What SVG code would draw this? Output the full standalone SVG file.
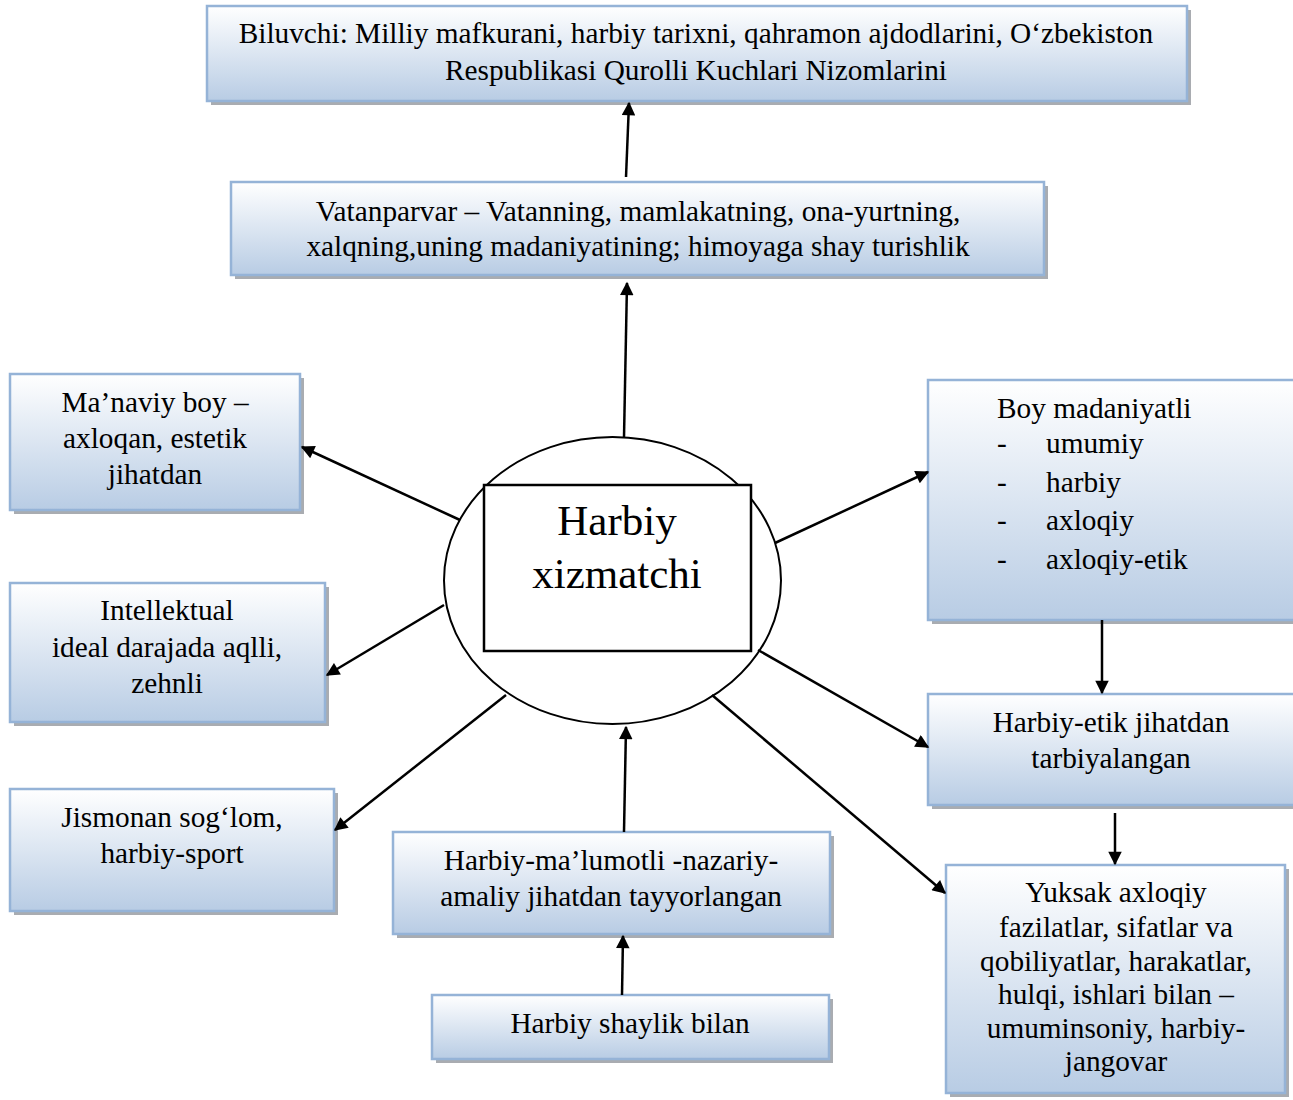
<svg xmlns="http://www.w3.org/2000/svg" width="1293" height="1100" viewBox="0 0 1293 1100">
<style>
.box{fill:url(#g);stroke:#95b3d7;stroke-width:2.5}
.sh{fill:#8c9097;opacity:0.75}
.t{font-family:"Liberation Serif","Times New Roman",serif;font-size:29.3px;fill:#000}
.big{font-family:"Liberation Serif","Times New Roman",serif;font-size:43px;fill:#000}
.c{text-anchor:middle}
.ln{stroke:#000;stroke-width:2.5;fill:none;marker-end:url(#ah)}
</style>
<defs>
<linearGradient id="g" x1="0" y1="0" x2="0" y2="1">
<stop offset="0" stop-color="#ffffff"/>
<stop offset="1" stop-color="#b8cce4"/>
</linearGradient>
<marker id="ah" viewBox="0 0 10 10" refX="9" refY="5" markerWidth="6.4" markerHeight="5.4" orient="auto" markerUnits="strokeWidth">
<path d="M0,0 L10,5 L0,10 z" fill="#000"/>
</marker>
</defs>
<rect width="1293" height="1100" fill="#fff"/>

<g id="n-biluvchi">
<rect class="sh" x="211" y="10" width="980" height="95"/>
<rect class="box" x="207" y="6" width="980" height="95"/>
<text class="t c" x="696" y="43">Biluvchi: Milliy mafkurani, harbiy tarixni, qahramon ajdodlarini, O‘zbekiston</text>
<text class="t c" x="696" y="80">Respublikasi Qurolli Kuchlari Nizomlarini</text>
</g>

<g id="n-vatanparvar">
<rect class="sh" x="235" y="186" width="813" height="93"/>
<rect class="box" x="231" y="182" width="813" height="93"/>
<text class="t c" x="638" y="221">Vatanparvar – Vatanning, mamlakatning, ona-yurtning,</text>
<text class="t c" x="638" y="256">xalqning,uning madaniyatining; himoyaga shay turishlik</text>
</g>

<g id="n-manaviy">
<rect class="sh" x="14" y="378" width="290" height="136"/>
<rect class="box" x="10" y="374" width="290" height="136"/>
<text class="t c" x="155" y="412">Ma’naviy boy –</text>
<text class="t c" x="155" y="448">axloqan, estetik</text>
<text class="t c" x="155" y="484">jihatdan</text>
</g>

<g id="n-intellektual">
<rect class="sh" x="14" y="587" width="315" height="139"/>
<rect class="box" x="10" y="583" width="315" height="139"/>
<text class="t c" x="167" y="620">Intellektual</text>
<text class="t c" x="167" y="657">ideal darajada aqlli,</text>
<text class="t c" x="167" y="693">zehnli</text>
</g>

<g id="n-jismonan">
<rect class="sh" x="14" y="793" width="324" height="122"/>
<rect class="box" x="10" y="789" width="324" height="122"/>
<text class="t c" x="172" y="827">Jismonan sog‘lom,</text>
<text class="t c" x="172" y="863">harbiy-sport</text>
</g>

<g id="n-malumotli">
<rect class="sh" x="397" y="836" width="437" height="102"/>
<rect class="box" x="393" y="832" width="437" height="102"/>
<text class="t c" x="611" y="870">Harbiy-ma’lumotli -nazariy-</text>
<text class="t c" x="611" y="906">amaliy jihatdan tayyorlangan</text>
</g>

<g id="n-shaylik">
<rect class="sh" x="436" y="999" width="397" height="64"/>
<rect class="box" x="432" y="995" width="397" height="64"/>
<text class="t c" x="630" y="1033">Harbiy shaylik bilan</text>
</g>

<g id="n-boy">
<rect class="sh" x="932" y="384" width="370" height="240"/>
<rect class="box" x="928" y="380" width="370" height="240"/>
<text class="t" x="997" y="418">Boy madaniyatli</text>
<text class="t" x="997" y="453">-</text><text class="t" x="1046" y="453">umumiy</text>
<text class="t" x="997" y="492">-</text><text class="t" x="1046" y="492">harbiy</text>
<text class="t" x="997" y="530">-</text><text class="t" x="1046" y="530">axloqiy</text>
<text class="t" x="997" y="569">-</text><text class="t" x="1046" y="569">axloqiy-etik</text>
</g>

<g id="n-etik">
<rect class="sh" x="932" y="698" width="370" height="111"/>
<rect class="box" x="928" y="694" width="370" height="111"/>
<text class="t c" x="1111" y="732">Harbiy-etik jihatdan</text>
<text class="t c" x="1111" y="768">tarbiyalangan</text>
</g>

<g id="n-yuksak">
<rect class="sh" x="950" y="869" width="339" height="228"/>
<rect class="box" x="946" y="865" width="339" height="228"/>
<text class="t c" x="1116" y="902">Yuksak axloqiy</text>
<text class="t c" x="1116" y="937">fazilatlar, sifatlar va</text>
<text class="t c" x="1116" y="971">qobiliyatlar, harakatlar,</text>
<text class="t c" x="1116" y="1004">hulqi, ishlari bilan –</text>
<text class="t c" x="1116" y="1038">umuminsoniy, harbiy-</text>
<text class="t c" x="1116" y="1071">jangovar</text>
</g>

<g id="n-center">
<ellipse cx="612.5" cy="580.5" rx="168.5" ry="143.5" fill="#fff" stroke="#000" stroke-width="2"/>
<rect x="484" y="485" width="267" height="166" fill="#fff" stroke="#000" stroke-width="2.5"/>
<text class="big c" x="617" y="535">Harbiy</text>
<text class="big c" x="617" y="588">xizmatchi</text>
</g>

<g id="connectors">
<line class="ln" x1="624" y1="437" x2="627" y2="283"/>
<line class="ln" x1="626" y1="177" x2="629" y2="103"/>
<line class="ln" x1="460" y1="520" x2="302" y2="447"/>
<line class="ln" x1="444" y1="605" x2="327" y2="675"/>
<line class="ln" x1="506" y1="695" x2="335" y2="830"/>
<line class="ln" x1="775" y1="543" x2="928" y2="472"/>
<line class="ln" x1="758" y1="650" x2="928" y2="747"/>
<line class="ln" x1="712" y1="695" x2="945" y2="893"/>
<line class="ln" x1="624" y1="832" x2="626" y2="727"/>
<line class="ln" x1="622" y1="995" x2="623" y2="936"/>
<line class="ln" x1="1102" y1="620" x2="1102" y2="693"/>
<line class="ln" x1="1115" y1="813" x2="1115" y2="864"/>
</g>
</svg>
